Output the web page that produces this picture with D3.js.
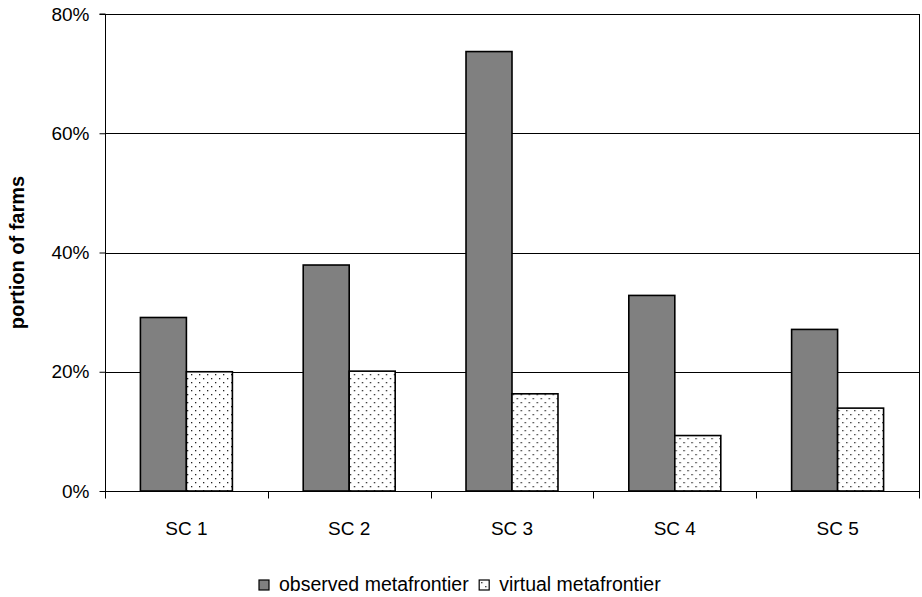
<!DOCTYPE html>
<html><head><meta charset="utf-8">
<script src="https://cdn.jsdelivr.net/npm/d3@7"></script>
<style>body{margin:0;background:#fff}svg{display:block}text{font-family:"Liberation Sans",Arial,sans-serif;fill:#000}</style>
</head><body>
<script>
const categories = ["SC 1","SC 2","SC 3","SC 4","SC 5"];
const series = ["observed metafrontier","virtual metafrontier"];
const observed = [29.1, 37.9, 73.7, 32.8, 27.1];
const virtualV = [20.0, 20.1, 16.3, 9.3, 13.9];
const yTicks = [0, 20, 40, 60, 80];
const yLabel = "portion of farms";

const W = 922, H = 597;
const m = {l:105, r:3, t:14, b:106};
const svg = d3.select("body").append("svg").attr("width", W).attr("height", H);
const defs = svg.append("defs");
const pat = defs.append("pattern").attr("id","dots").attr("patternUnits","userSpaceOnUse")
  .attr("width",8).attr("height",8);
pat.append("rect").attr("width",8).attr("height",8).attr("fill","#fff");
pat.append("rect").attr("x",2).attr("y",2).attr("width",1.3).attr("height",1.3).attr("fill","#222");
pat.append("rect").attr("x",6).attr("y",6).attr("width",1.3).attr("height",1.3).attr("fill","#222");

const x0 = d3.scaleBand().domain(categories).range([m.l, W - m.r]).padding(0);
const x1 = d3.scaleBand().domain(series).range([0, x0.bandwidth()]).paddingInner(0).paddingOuter(0.77);
const y = d3.scaleLinear().domain([0, 80]).range([H - m.b, m.t]);
const fills = {"observed metafrontier":"#808080","virtual metafrontier":"url(#dots)"};

// gridlines
svg.append("g").selectAll("line").data(yTicks.filter(d=>d>0)).join("line")
  .attr("x1", m.l).attr("x2", W - m.r).attr("y1", d=>Math.round(y(d))+0.5).attr("y2", d=>Math.round(y(d))+0.5)
  .attr("stroke","#000").attr("stroke-width",1);
// right border
svg.append("line").attr("x1", W-m.r+0.5).attr("x2", W-m.r+0.5).attr("y1", y(80)).attr("y2", y(0)).attr("stroke","#000");

// bars
const rows = categories.map((c,i)=>({c, vals:[{s:series[0], v:observed[i]},{s:series[1], v:virtualV[i]}]}));
const g = svg.append("g").selectAll("g").data(rows).join("g").attr("transform", d=>`translate(${x0(d.c)},0)`);
g.selectAll("rect").data(d=>d.vals).join("rect")
  .attr("x", d=>x1(d.s)).attr("width", x1.bandwidth())
  .attr("y", d=>y(d.v)).attr("height", d=>y(0)-y(d.v))
  .attr("fill", d=>fills[d.s]).attr("stroke","#000").attr("stroke-width",1.6);

// y axis
const yAxis = d3.axisLeft(y).tickValues(yTicks).tickFormat(d=>d+"%").tickSize(6).tickPadding(10);
const ya = svg.append("g").attr("transform",`translate(${m.l+0.5},0)`).call(yAxis);
ya.select(".domain").attr("stroke","#000").attr("d", `M-6,${y(80)}H0V${y(0)+6}`);
ya.selectAll("text").style("font-size","19px").attr("font-family","Liberation Sans, Arial, sans-serif");

// x axis
const xa = svg.append("g").attr("transform",`translate(0,${Math.round(y(0))+0.5})`);
xa.append("line").attr("x1", m.l).attr("x2", W-m.r+1).attr("stroke","#000");
const bounds = categories.map(c=>x0(c)).concat([x0(categories[categories.length-1])+x0.bandwidth()]);
xa.selectAll("line.t").data(bounds).join("line").attr("class","t")
  .attr("x1", d=>Math.round(d)+0.5).attr("x2", d=>Math.round(d)+0.5).attr("y1",0).attr("y2",7).attr("stroke","#000");
xa.selectAll("text").data(categories).join("text")
  .attr("x", d=>x0(d)+x0.bandwidth()/2).attr("y", 43).attr("text-anchor","middle")
  .style("font-size","19px").text(d=>d);

// y label
svg.append("text").attr("transform",`translate(24,${(y(0)+y(80))/2}) rotate(-90)`)
  .attr("text-anchor","middle").style("font-size","20px").style("font-weight","bold").text(yLabel);

// legend
const leg = svg.append("g").attr("transform","translate(259,580)");
const items = leg.selectAll("g").data(series).join("g");
items.append("rect").attr("width",10).attr("height",10).attr("x",0).attr("y",0)
  .attr("fill", d=>fills[d]).attr("stroke","#000").attr("stroke-width",1.2);
items.append("text").attr("x",20).attr("y",10.5).style("font-size","19.5px").text(d=>d);
let off = 0;
items.each(function(){ d3.select(this).attr("transform",`translate(${off},0)`); off += this.getBBox().width + 10; });
</script>
</body></html>
